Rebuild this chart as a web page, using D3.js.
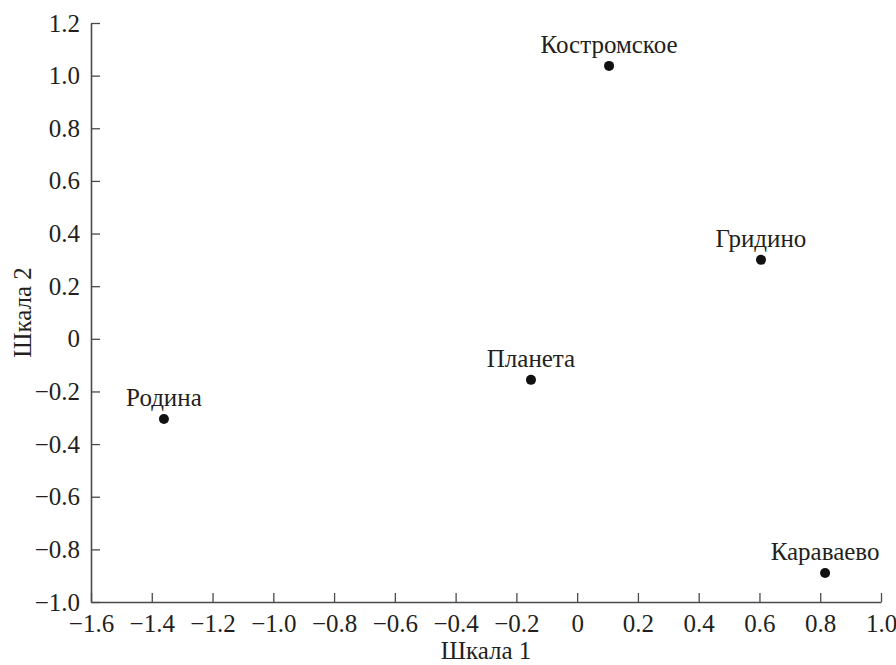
<!DOCTYPE html>
<html><head><meta charset="utf-8">
<script src="https://cdn.jsdelivr.net/npm/d3@7"></script>
<style>body{margin:0;background:#fff}svg{display:block}</style>
</head><body>
<script>
const names = ["Костромское", "Гридино", "Планета", "Родина", "Караваево"];
const xValues = [0.105, 0.605, -0.152, -1.36, 0.816];
const yValues = [1.037, 0.30, -0.156, -0.305, -0.89];
const xTicks = [-1.6, -1.4, -1.2, -1.0, -0.8, -0.6, -0.4, -0.2, 0, 0.2, 0.4, 0.6, 0.8, 1.0];
const yTicks = [-1.0, -0.8, -0.6, -0.4, -0.2, 0, 0.2, 0.4, 0.6, 0.8, 1.0, 1.2];
const xTitle = "Шкала 1", yTitle = "Шкала 2";

const W = 896, H = 665;
const m = {left: 91, right: 15, top: 23, bottom: 63};
const FONT = "Liberation Serif";
const FS = 25;
const textCol = "#231f20", axisCol = "#4a4a4a";

const svg = d3.select("body").append("svg").attr("width", W).attr("height", H)
  .attr("font-family", FONT).attr("font-size", FS);
const x = d3.scaleLinear().domain([-1.6, 1.0]).range([m.left, W - m.right]);
const y = d3.scaleLinear().domain([-1.0, 1.2]).range([H - m.bottom, m.top]);

const fmt = v => {
  if (Math.abs(v) < 1e-9) return "0";
  const s = Math.abs(v).toFixed(1);
  return (v < 0 ? "\u2212" : "") + s;
};

const gx = svg.append("g").attr("transform", `translate(0,${y(-1.0)})`)
  .call(d3.axisBottom(x).tickValues(xTicks).tickFormat(fmt).tickSizeInner(-9).tickSizeOuter(0).tickPadding(12));
const gy = svg.append("g").attr("transform", `translate(${x(-1.6)},0)`)
  .call(d3.axisLeft(y).tickValues(yTicks).tickFormat(fmt).tickSizeInner(-9).tickSizeOuter(0).tickPadding(11));

[gx, gy].forEach(g => {
  g.attr("font-family", FONT).attr("font-size", FS);
  g.select(".domain").attr("stroke", axisCol).attr("stroke-width", 1.6);
  g.selectAll(".tick line").attr("stroke", axisCol).attr("stroke-width", 1.3);
  g.selectAll(".tick text").attr("fill", textCol);
});

svg.append("text").attr("x", (x(-1.6) + x(1.0)) / 2).attr("y", 659)
  .attr("text-anchor", "middle").attr("fill", textCol).text(xTitle);
svg.append("text").attr("transform", `translate(31,${(y(-1.0) + y(1.2)) / 2}) rotate(-90)`)
  .attr("text-anchor", "middle").attr("fill", textCol).text(yTitle);

const pts = names.map((n, i) => ({n, x: xValues[i], y: yValues[i]}));
const g = svg.append("g");
g.selectAll("circle").data(pts).join("circle")
  .attr("cx", d => x(d.x)).attr("cy", d => y(d.y)).attr("r", 5).attr("fill", "#111");
g.selectAll("text").data(pts).join("text")
  .attr("x", d => x(d.x)).attr("y", d => y(d.y) - 13)
  .attr("text-anchor", "middle").attr("fill", textCol).text(d => d.n);

svg.selectAll("text").each(function() {
  this.style.setProperty("font-family", "'Liberation Serif', 'Times New Roman', Tinos, serif", "important");
  this.style.setProperty("font-size", FS + "px", "important");
});
</script>
</body></html>
